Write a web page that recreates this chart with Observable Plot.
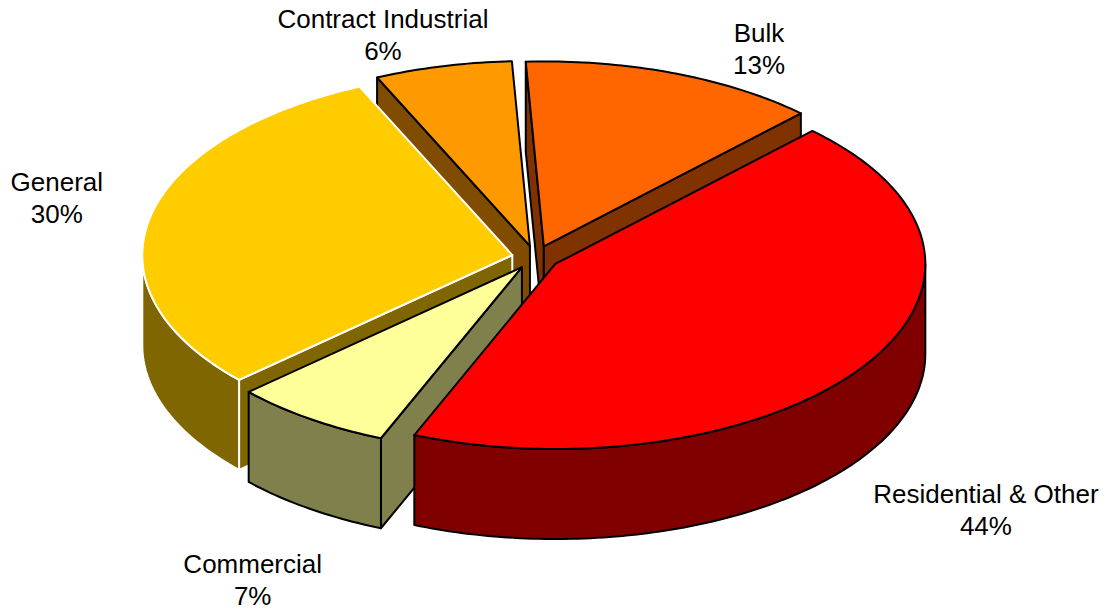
<!DOCTYPE html>
<html>
<head>
<meta charset="utf-8">
<script src="https://cdn.jsdelivr.net/npm/d3@7"></script>
<script src="https://cdn.jsdelivr.net/npm/@observablehq/plot@0.6"></script>
<style>
  html, body { margin: 0; padding: 0; background: #fff; }
  #chart svg { display: block; }
</style>
</head>
<body>
<div id="chart"></div>
<script>
// ---- data (clockwise from the top) ----
const categories = ["Bulk", "Residential & Other", "Commercial", "General", "Contract Industrial"];
const shares = [13, 44, 7, 30, 6];
const topColors = ["#FF6600", "#FF0000", "#FFFF99", "#FFCC00", "#FF9900"];
const sideColors = ["#803300", "#800000", "#80804C", "#806600", "#804C00"];
const edgeColors = ["#000000", "#000000", "#000000", "#FFFFFF", "#000000"];

// ---- layout ----
const W = 1111, H = 610;
const pie = {cx: 535, cy: 257, rx: 370, ry: 185, depth: 90, explode: 0.064, startAngle: -2.8};
const labelOffsets = [[85, 1], [121, 170], [-57, 186], [-93, 5], [-60, -6]];

// ---- geometry derived from the shares ----
const total = d3.sum(shares);
const rad = (d) => d * Math.PI / 180;
let acc = pie.startAngle;
const slices = shares.map((v, i) => {
  const a0 = acc, a1 = acc + v / total * 360;
  acc = a1;
  return {i, a0, a1, mid: (a0 + a1) / 2};
});
function plane(sl, r, ang) {
  const m = rad(sl.mid);
  return [pie.explode * Math.sin(m) + r * Math.sin(rad(ang)),
          pie.explode * Math.cos(m) + r * Math.cos(rad(ang))];
}
function scr(p, z) {
  return {x: pie.cx + pie.rx * p[0], y: pie.cy - pie.ry * p[1] + pie.depth * z, w: p[1]};
}
function arcAngles(a0, a1) {
  const n = Math.max(2, Math.ceil(Math.abs(a1 - a0)));
  return d3.range(n + 1).map((k) => a0 + (a1 - a0) * k / n);
}

const walls = [];
const tops = [];
for (const sl of slices) {
  const apex = plane(sl, 0, 0);
  // outer curved wall (front half only)
  const lo = Math.max(sl.a0, 90), hi = Math.min(sl.a1, 270);
  if (lo < hi) {
    const angs = arcAngles(lo, hi);
    const topArc = angs.map((a) => scr(plane(sl, 1, a), 0));
    const botArc = angs.slice().reverse().map((a) => scr(plane(sl, 1, a), 1));
    walls.push({i: sl.i, key: plane(sl, 1, (lo + hi) / 2)[1], pts: topArc.concat(botArc)});
  }
  // radial walls
  const radial = (ang) => {
    const rim = plane(sl, 1, ang);
    return [scr(apex, 0), scr(rim, 0), scr(rim, 1), scr(apex, 1)];
  };
  if (Math.sin(rad(sl.a0)) < 0) {
    walls.push({i: sl.i, key: (apex[1] + plane(sl, 1, sl.a0)[1]) / 2, pts: radial(sl.a0)});
  }
  if (Math.sin(rad(sl.a1)) > 0) {
    walls.push({i: sl.i, key: (apex[1] + plane(sl, 1, sl.a1)[1]) / 2, pts: radial(sl.a1)});
  }
  // top face
  tops.push({i: sl.i, pts: [scr(apex, 0)].concat(arcAngles(sl.a0, sl.a1).map((a) => scr(plane(sl, 1, a), 0)))});
}
walls.sort((a, b) => b.key - a.key);

const faceMark = (f, fill) => Plot.line(f.pts, {
  x: "x", y: "y", curve: "linear-closed",
  fill, stroke: edgeColors[f.i], strokeWidth: 2, strokeLinejoin: "round"
});

// labels
const labels = slices.map((sl) => {
  const p = scr(plane(sl, 1, sl.mid), 0);
  return {x: p.x + labelOffsets[sl.i][0], y: p.y + labelOffsets[sl.i][1],
          text: `${categories[sl.i]}\n${shares[sl.i]}%`};
});

const chart = Plot.plot({
  width: W, height: H, margin: 0,
  x: {domain: [0, W], range: [0, W], axis: null},
  y: {domain: [0, H], range: [0, H], axis: null},
  style: {background: "#fff"},
  marks: [
    ...walls.map((f) => faceMark(f, sideColors[f.i])),
    ...tops.map((f) => faceMark(f, topColors[f.i])),
    Plot.text(labels, {
      x: "x", y: "y", text: "text", textAnchor: "middle", lineAnchor: "bottom",
      fontSize: 26, lineHeight: 32 / 26, fill: "#000",
      fontFamily: "'Liberation Sans', Arial, sans-serif"
    })
  ]
});
document.getElementById("chart").appendChild(chart);
</script>
</body>
</html>
